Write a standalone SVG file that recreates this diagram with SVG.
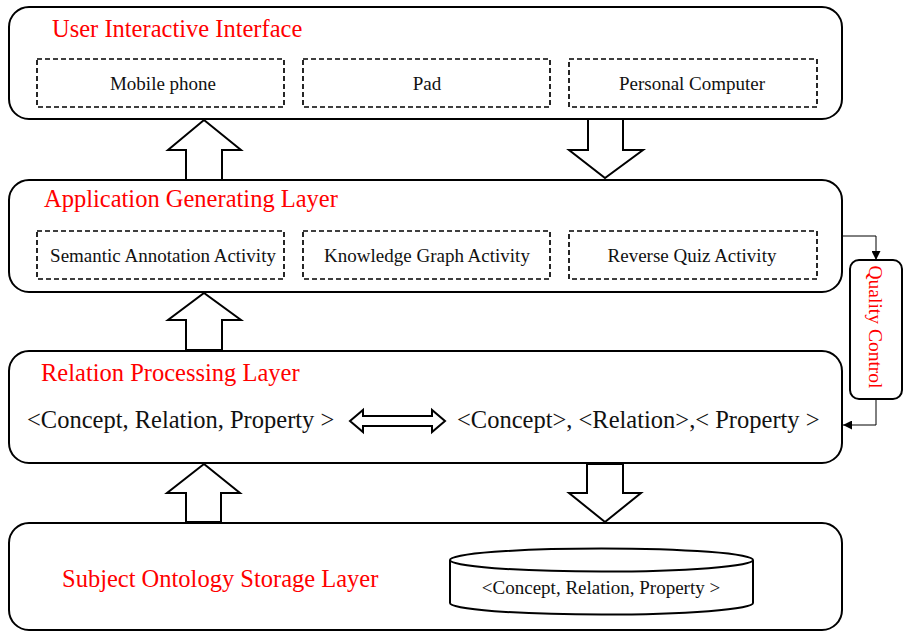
<svg xmlns="http://www.w3.org/2000/svg" width="904" height="632" viewBox="0 0 904 632">
<style>
.layer{fill:#fff;stroke:#000;stroke-width:2}
.dash{fill:none;stroke:#000;stroke-width:1.7;stroke-dasharray:5 3}
.title{font-family:"Liberation Serif","Times New Roman",serif;font-size:24.5px;fill:#ff0000}
.t19{font-family:"Liberation Serif","Times New Roman",serif;font-size:19px;fill:#111;text-anchor:middle}
.t24{font-family:"Liberation Serif","Times New Roman",serif;font-size:24.5px;fill:#111}
.blk{fill:#fff;stroke:#000;stroke-width:2;stroke-linejoin:miter}
.conn{fill:none;stroke:#000;stroke-width:1}
</style>
<defs>
<marker id="ah" viewBox="0 0 10 10" refX="10" refY="5" markerWidth="9" markerHeight="9" markerUnits="userSpaceOnUse" orient="auto">
<path d="M0,0 L10,5 L0,10 z" fill="#000"/>
</marker>
</defs>
<rect width="904" height="632" fill="#fff"/>

<g id="user-interface">
<rect class="layer" x="9" y="7" width="833" height="112" rx="20"/>
<text class="title" x="52" y="37">User Interactive Interface</text>
<rect class="dash" x="37" y="59" width="247" height="48"/>
<text class="t19" x="163" y="90">Mobile phone</text>
<rect class="dash" x="303" y="59" width="247" height="48"/>
<text class="t19" x="427" y="90">Pad</text>
<rect class="dash" x="569" y="59" width="248" height="48"/>
<text class="t19" x="692" y="90">Personal Computer</text>
</g>

<g id="application-layer">
<rect class="layer" x="9" y="180" width="833" height="112" rx="20"/>
<text class="title" x="44" y="207">Application Generating Layer</text>
<rect class="dash" x="37" y="231" width="247" height="48"/>
<text class="t19" x="163" y="262">Semantic Annotation Activity</text>
<rect class="dash" x="303" y="231" width="247" height="48"/>
<text class="t19" x="427" y="262">Knowledge Graph Activity</text>
<rect class="dash" x="569" y="231" width="248" height="48"/>
<text class="t19" x="692" y="262">Reverse Quiz Activity</text>
</g>

<g id="relation-layer">
<rect class="layer" x="9" y="351" width="833" height="112" rx="20"/>
<text class="title" x="41" y="381">Relation Processing Layer</text>
<text class="t24" x="27" y="428">&lt;Concept, Relation, Property &gt;</text>
<text class="t24" x="457" y="428">&lt;Concept&gt;, &lt;Relation&gt;,&lt; Property &gt;</text>
</g>

<g id="storage-layer">
<rect class="layer" x="9" y="523" width="833" height="107" rx="20"/>
<text class="title" x="62" y="587">Subject Ontology Storage Layer</text>
<path class="blk" d="M450,560 L450,603 A151.5,11.5 0 0 0 753,603 L753,560"/>
<ellipse class="blk" cx="601.5" cy="560" rx="151.5" ry="11.5"/>
<text class="t19" x="601" y="594">&lt;Concept, Relation, Property &gt;</text>
</g>

<g id="quality-control">
<rect class="layer" x="850" y="260" width="52" height="139" rx="9"/>
<text transform="translate(869,327) rotate(90)" style="font-family:'Liberation Serif','Times New Roman',serif;font-size:19.5px;fill:#ff0000;text-anchor:middle">Quality Control</text>
</g>

<g id="connectors">
<polygon class="blk" points="186,180 186,150 168,150 204,120 241,150 222,150 222,180"/>
<polygon class="blk" points="588,119 588,150 569,150 605,178 643,150 623,150 623,119"/>
<polygon class="blk" points="186,350 186,320 168,320 204,293 241,320 222,320 222,350"/>
<polygon class="blk" points="186,522 186,493 167,493 204,464 240,493 221,493 221,522"/>
<polygon class="blk" points="587,464 587,493 569,493 605,522 641,493 623,493 623,464"/>
<polygon class="blk" points="350,421 363,410 363,416 432,416 432,410 445,421 432,432 432,426 363,426 363,432"/>
<path class="conn" d="M842,236 L876,236 L876,260" marker-end="url(#ah)"/>
<path class="conn" d="M876,399 L876,425 L843,425" marker-end="url(#ah)"/>
</g>
</svg>
